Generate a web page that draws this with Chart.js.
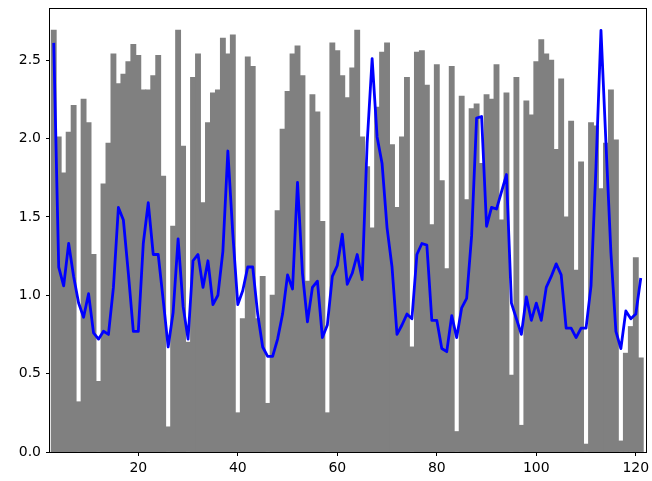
<!DOCTYPE html>
<html>
<head>
<meta charset="utf-8">
<script src="https://cdn.jsdelivr.net/npm/chart.js@4/dist/chart.umd.min.js"></script>
<style>
  html, body { margin: 0; padding: 0; background: #fff; }
  #wrap { width: 652px; height: 481px; }
</style>
</head>
<body>
<div id="wrap"><canvas id="chart" width="652" height="481"></canvas></div>
<script>
// x positions of the bars / line points
const firstDay = 3;
const days = Array.from({ length: 119 }, (_, i) => i + firstDay);

// tick labels
const xTicks = [20, 40, 60, 80, 100, 120];
const yTicks = [0, 0.5, 1.0, 1.5, 2.0, 2.5];

// bar heights (grey)
const barValues = [
  2.69, 2.01, 1.78, 2.04, 2.21, 0.32, 2.25, 2.10, 1.26, 0.45,
  1.71, 1.97, 2.54, 2.35, 2.41, 2.49, 2.60, 2.53, 2.31, 2.31,
  2.40, 2.53, 1.76, 0.16, 1.44, 2.69, 1.95, 0.70, 2.39, 2.54,
  1.59, 2.10, 2.29, 2.31, 2.64, 2.54, 2.66, 0.25, 0.85, 2.52,
  2.46, 0.85, 1.12, 0.31, 1.00, 1.54, 2.06, 2.30, 2.54, 2.59,
  2.40, 1.09, 2.28, 2.17, 1.47, 0.25, 2.61, 2.56, 2.40, 2.26,
  2.45, 2.69, 2.01, 1.82, 1.43, 2.20, 2.55, 2.61, 1.96, 1.56,
  2.01, 2.39, 0.67, 2.55, 2.56, 2.34, 1.45, 2.47, 1.73, 1.17,
  2.46, 0.13, 2.27, 1.61, 2.19, 2.22, 1.84, 2.28, 2.25, 2.47,
  1.48, 2.29, 0.49, 2.39, 0.17, 2.24, 2.15, 2.49, 2.63, 2.54,
  2.50, 1.93, 2.38, 1.50, 2.11, 1.16, 1.85, 0.05, 2.10, 2.08,
  1.68, 1.97, 2.31, 1.99, 0.07, 0.63, 0.80, 1.24, 0.60,
];

// smoothed line (blue)
const lineValues = [
  2.61, 1.18, 1.06, 1.33, 1.12, 0.95, 0.86, 1.01, 0.76, 0.72,
  0.77, 0.75, 1.05, 1.56, 1.48, 1.14, 0.77, 0.77, 1.33, 1.59,
  1.26, 1.26, 0.97, 0.67, 0.89, 1.36, 0.93, 0.72, 1.22, 1.26,
  1.05, 1.22, 0.94, 1.00, 1.28, 1.92, 1.39, 0.94, 1.03, 1.18,
  1.18, 0.88, 0.67, 0.61, 0.61, 0.72, 0.88, 1.13, 1.04, 1.72,
  1.14, 0.83, 1.05, 1.09, 0.73, 0.81, 1.12, 1.19, 1.39, 1.07,
  1.14, 1.26, 1.10, 1.97, 2.51, 2.01, 1.84, 1.43, 1.18, 0.75,
  0.81, 0.88, 0.85, 1.26, 1.33, 1.32, 0.84, 0.84, 0.66, 0.64,
  0.87, 0.73, 0.92, 0.98, 1.38, 2.13, 2.14, 1.44, 1.56, 1.55,
  1.66, 1.77, 0.95, 0.85, 0.75, 0.99, 0.84, 0.95, 0.84, 1.05,
  1.12, 1.20, 1.13, 0.79, 0.79, 0.73, 0.79, 0.79, 1.06, 1.82,
  2.69, 1.97, 1.27, 0.77, 0.66, 0.90, 0.85, 0.88, 1.11,
];

const xMin = 2.25, xMax = 122.05;
const yMin = 0, yMax = 2.826;

const frame = {
  id: "frame",
  afterDatasetsDraw(chart) {
    const { ctx, chartArea: a } = chart;
    ctx.save();
    ctx.strokeStyle = "#000";
    ctx.lineWidth = 1;
    ctx.strokeRect(Math.round(a.left) - 0.5, Math.round(a.top) - 0.5,
      Math.round(a.right - a.left) + 1, Math.round(a.bottom - a.top) + 1);
    ctx.restore();
  },
};

const font = { family: "'DejaVu Sans', sans-serif", size: 14 };

new Chart(document.getElementById("chart"), {
  data: {
    datasets: [
      {
        type: "line",
        order: 0,
        data: days.map((d, i) => ({ x: d, y: lineValues[i] })),
        borderColor: "#0000ff",
        borderWidth: 2.8,
        pointRadius: 0,
        tension: 0,
        borderJoinStyle: "round",
        borderCapStyle: "butt",
      },
      {
        type: "bar",
        order: 1,
        data: days.map((d, i) => ({ x: d, y: barValues[i] })),
        backgroundColor: "#808080",
        borderWidth: 0,
        inflateAmount: 0.45,
        barPercentage: 1,
        categoryPercentage: 1,
      },
    ],
  },
  options: {
    responsive: false,
    animation: false,
    events: [],
    layout: { padding: { left: 0, right: 6, top: 9, bottom: 0 } },
    plugins: { legend: { display: false }, tooltip: { enabled: false } },
    scales: {
      x: {
        type: "linear",
        min: xMin,
        max: xMax,
        offset: false,
        border: { display: false },
        grid: {
          display: true,
          drawOnChartArea: false,
          drawTicks: true,
          tickLength: 4,
          color: "#000",
          offset: false,
        },
        ticks: {
          color: "#000",
          font,
          padding: 4,
          maxRotation: 0,
          autoSkip: false,
        },
        afterBuildTicks(scale) { scale.ticks = xTicks.map((v) => ({ value: v })); },
        afterFit(scale) {
          scale.height = 29;
          scale.paddingLeft = 0;
          scale.paddingRight = 0;
        },
      },
      y: {
        min: yMin,
        max: yMax,
        border: { display: false },
        grid: {
          display: true,
          drawOnChartArea: false,
          drawTicks: true,
          tickLength: 4,
          color: "#000",
        },
        ticks: {
          color: "#000",
          font,
          padding: 5,
          autoSkip: false,
          callback: (v) => v.toFixed(1),
        },
        afterBuildTicks(scale) { scale.ticks = yTicks.map((v) => ({ value: v })); },
        afterFit(scale) {
          scale.width = 50;
          scale.paddingTop = 0;
          scale.paddingBottom = 0;
        },
      },
    },
  },
  plugins: [frame],
});
</script>
</body>
</html>
